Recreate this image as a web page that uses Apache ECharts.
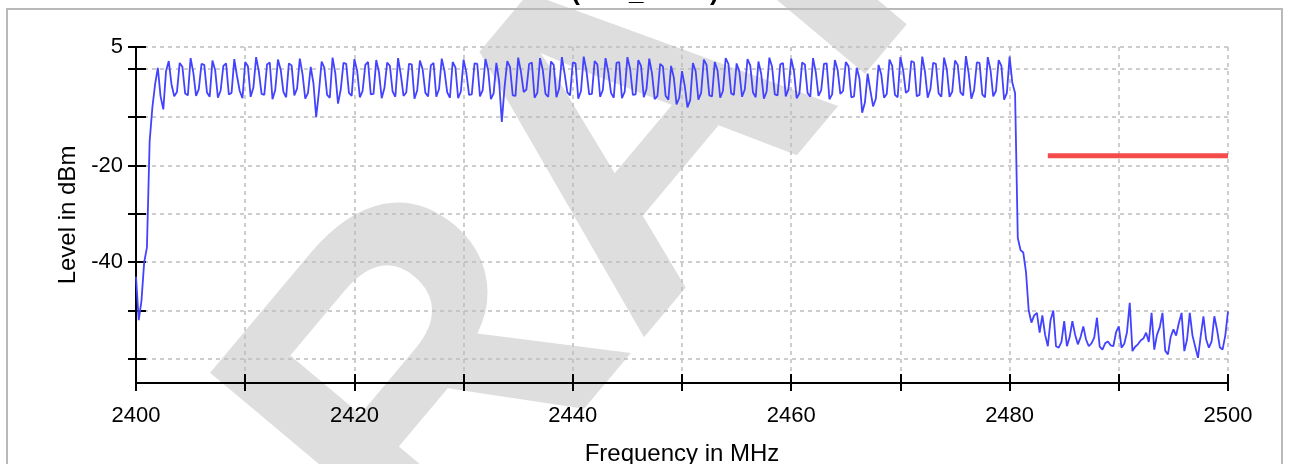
<!DOCTYPE html>
<html><head><meta charset="utf-8">
<script src="https://cdn.jsdelivr.net/npm/echarts@6/dist/echarts.min.js"></script>
<style>html,body{margin:0;padding:0;background:#fff}#c{width:1290px;height:464px}</style>
</head><body><div id="c"></div>
<script>
const titleText = '(O01_AD01)';
const xName = 'Frequency in MHz';
const yName = 'Level in dBm';
const freqStart = 2400;
const freqStep = 0.25;
// measured level (dBm), one row per MHz, 4 samples per row
const level = [
  -43, -52, -48, -40,
  -37, -15, -8, -3.2,
  0.2, -5.7, -8.4, -0.5,
  1.6, -3.2, -5.7, -4.8,
  1.2, 0.4, -5.1, -5.5,
  2.2, -0.8, -5.6, -4.2,
  1.0, 0.8, -4.9, -5.8,
  1.7, -0.3, -6.0, -4.5,
  0.6, 1.1, -5.3, -5.0,
  2.0, -1.5, -4.6, -6.1,
  1.4, 0.5, -5.8, -3.9,
  2.4, -0.6, -5.2, -5.4,
  0.9, 1.3, -6.3, -4.4,
  1.9, -0.2, -4.8, -5.9,
  1.1, 0.7, -5.5, -4.1,
  2.1, -1.1, -6.2, -5.0,
  0.4, -3.0, -10.0, -4.8,
  1.5, 0.2, -5.4, -6.0,
  2.3, -0.9, -7.2, -4.3,
  1.2, 1.0, -5.0, -5.6,
  2.0, -0.4, -5.9, -4.6,
  0.8, 1.4, -5.3, -5.2,
  1.8, -0.7, -6.1, -4.0,
  1.3, 0.6, -4.7, -5.8,
  2.2, -1.2, -5.6, -4.9,
  1.0, 0.9, -6.2, -4.5,
  1.7, -0.1, -5.0, -5.7,
  0.7, 1.2, -5.8, -4.2,
  2.1, -0.5, -4.9, -6.0,
  1.4, 0.3, -6.1, -4.7,
  1.9, -0.8, -5.4, -5.3,
  1.1, 1.0, -5.7, -4.4,
  2.0, -0.3, -6.3, -5.1,
  1.2, -2.5, -11.0, -3.8,
  1.6, 0.4, -5.5, -5.6,
  2.3, -0.6, -4.8, -4.3,
  1.0, 1.3, -6.0, -5.0,
  2.2, -0.2, -5.2, -5.8,
  1.5, 0.8, -5.9, -4.1,
  2.4, -1.0, -4.9, -5.5,
  1.3, 1.1, -6.2, -4.6,
  2.5, -0.4, -5.3, -5.2,
  1.6, 0.9, -5.8, -4.4,
  2.2, -0.7, -5.0, -6.0,
  1.2, 1.4, -6.1, -4.8,
  2.4, 0.0, -5.4, -5.3,
  1.8, 0.6, -5.9, -4.2,
  2.1, -0.9, -6.3, -5.6,
  1.0, 0.5, -5.6, -6.4,
  0.6, -1.8, -7.4, -6.0,
  -0.5, -3.5, -8.0, -6.5,
  1.2, -0.5, -6.4, -5.0,
  1.9, 0.8, -5.5, -5.7,
  1.4, -0.3, -6.0, -4.6,
  2.2, 1.0, -5.1, -5.4,
  1.1, -0.6, -5.8, -4.3,
  2.0, 0.7, -4.9, -5.9,
  1.5, -1.0, -6.2, -4.7,
  2.3, 0.4, -5.3, -5.5,
  0.9, 1.2, -5.7, -4.2,
  2.1, -0.4, -6.1, -5.1,
  1.3, 0.9, -5.0, -5.8,
  2.2, -0.7, -5.6, -4.4,
  1.0, 1.1, -6.3, -5.3,
  1.8, -0.2, -5.2, -4.6,
  1.4, 0.5, -5.9, -5.7,
  0.2, -2.0, -9.1, -7.0,
  -1.0, -4.5, -7.8, -6.2,
  0.8, -1.2, -6.0, -5.2,
  1.9, 0.6, -5.4, -5.9,
  2.4, -0.3, -5.0, -4.5,
  1.6, 1.3, -5.7, -5.4,
  2.5, -0.6, -6.0, -4.2,
  1.2, 1.0, -5.1, -5.8,
  2.3, -0.1, -5.8, -4.7,
  1.7, 0.8, -4.9, -5.5,
  2.6, -0.9, -6.2, -4.4,
  1.3, 1.2, -5.3, -5.9,
  2.4, -0.2, -5.7, -4.6,
  1.8, 0.6, -6.4, -5.0,
  2.5, -2.9, -5.0, -35.0,
  -37.5, -38.0, -42.0, -50.0,
  -52.5, -51.0, -50.5, -54.6,
  -51.0, -55.0, -57.4, -52.0,
  -50.0, -57.4, -57.7, -56.5,
  -52.2, -57.4, -55.5, -52.2,
  -55.0, -57.0, -55.5, -53.3,
  -56.0, -57.4, -56.8, -55.6,
  -51.5, -57.5, -58.1, -56.8,
  -56.4, -57.2, -57.4, -54.5,
  -53.3, -57.7, -56.9, -54.5,
  -48.4, -58.4, -57.5, -57.0,
  -56.2, -55.8, -54.6, -56.5,
  -50.5, -58.1, -55.0, -53.5,
  -50.5, -58.3, -59.1, -55.5,
  -53.9, -55.2, -52.6, -50.5,
  -58.4, -56.0, -50.5, -55.2,
  -57.5, -59.8, -55.3, -51.2,
  -56.0, -57.7, -56.4, -51.2,
  -54.0, -57.6, -58.1, -55.2,
  -50.2
];
const limitFreq = [2483.5, 2500];
const limitLevel = [-18, -18];
const yTickValues = [4.5, 0, -10, -20, -30, -40, -50, -60];
const yLabelValues = [4.5, -20, -40];
const xLabelStep = 20;

const traceData = level.map((v, i) => [freqStart + i * freqStep, v]);
const limitData = limitFreq.map((f, i) => [f, limitLevel[i]]);

const FONT = 'Liberation Sans, Arial, sans-serif';
const chart = echarts.init(document.getElementById('c'), null, {renderer: 'canvas'});
const gridLine = {show: true, lineStyle: {color: '#bdbdbd', type: [4, 4], width: 1.5}};
chart.setOption({
  animation: false,
  backgroundColor: '#fff',
  graphic: [
    {type: 'text', x: 614, y: 180, rotation: 50 * Math.PI / 180, z: -10,
     style: {text: 'DRAFT', fontSize: 450, fontWeight: 'bold', fontFamily: FONT, fill: '#dedede', textAlign: 'center', textVerticalAlign: 'middle'}},
    {type: 'rect', shape: {x: 7, y: 9, width: 1275, height: 480}, z: -5,
     style: {fill: 'none', stroke: '#b9b9b9', lineWidth: 2}},
    {type: 'text', x: 645, y: 6, z: 10,
     style: {text: titleText, fontSize: 26, fontWeight: 'bold', fontFamily: FONT, fill: '#000', textAlign: 'center', textVerticalAlign: 'bottom'}}
  ],
  grid: {left: 136, top: 47, width: 1092, height: 336, containLabel: false, outerBoundsMode: 'none'},
  xAxis: [{
    type: 'value', min: 2400, max: 2500, interval: 10, position: 'bottom',
    name: xName, nameLocation: 'middle', nameGap: 59,
    nameTextStyle: {fontSize: 24, fontFamily: FONT, color: '#000'},
    axisLine: {show: true, onZero: false, lineStyle: {color: '#000', width: 2}},
    axisTick: {show: true, length: 8, lineStyle: {color: '#000', width: 2}},
    axisLabel: {margin: 22, fontSize: 22, fontFamily: FONT, color: '#000',
      formatter: v => (Math.round(v - 2400) % xLabelStep === 0 ? String(v) : '')},
    splitLine: gridLine
  }, {
    type: 'value', min: 2400, max: 2500, interval: 10, position: 'top', offset: -336,
    axisLine: {show: false, onZero: false}, axisLabel: {show: false}, splitLine: {show: false},
    axisTick: {show: true, inside: false, length: 9, lineStyle: {color: '#000', width: 2}}
  }],
  yAxis: [{
    type: 'value', min: -65, max: 4.5, position: 'left',
    name: yName, nameLocation: 'middle', nameRotate: 90, nameGap: 55,
    nameTextStyle: {fontSize: 24, fontFamily: FONT, color: '#000'},
    axisLine: {show: true, onZero: false, lineStyle: {color: '#000', width: 2}},
    axisTick: {show: true, length: 8, customValues: yTickValues, lineStyle: {color: '#000', width: 2}},
    axisLabel: {margin: 13, fontSize: 22, fontFamily: FONT, color: '#000', customValues: yLabelValues,
      formatter: v => String(Math.round(v))},
    splitLine: gridLine
  }, {
    type: 'value', min: -65, max: 4.5, position: 'right', offset: -1092,
    axisLine: {show: false, onZero: false}, axisLabel: {show: false}, splitLine: {show: false},
    axisTick: {show: true, inside: false, length: 10, customValues: yTickValues, lineStyle: {color: '#000', width: 2}}
  }],
  series: [{
    type: 'line', xAxisIndex: 0, yAxisIndex: 0, data: traceData, showSymbol: false,
    lineStyle: {color: '#4242ff', width: 1.8}, z: 3
  }, {
    type: 'line', xAxisIndex: 0, yAxisIndex: 0, data: limitData, showSymbol: false,
    lineStyle: {color: '#f44b4b', width: 5}, z: 4
  }]
});
</script></body></html>
